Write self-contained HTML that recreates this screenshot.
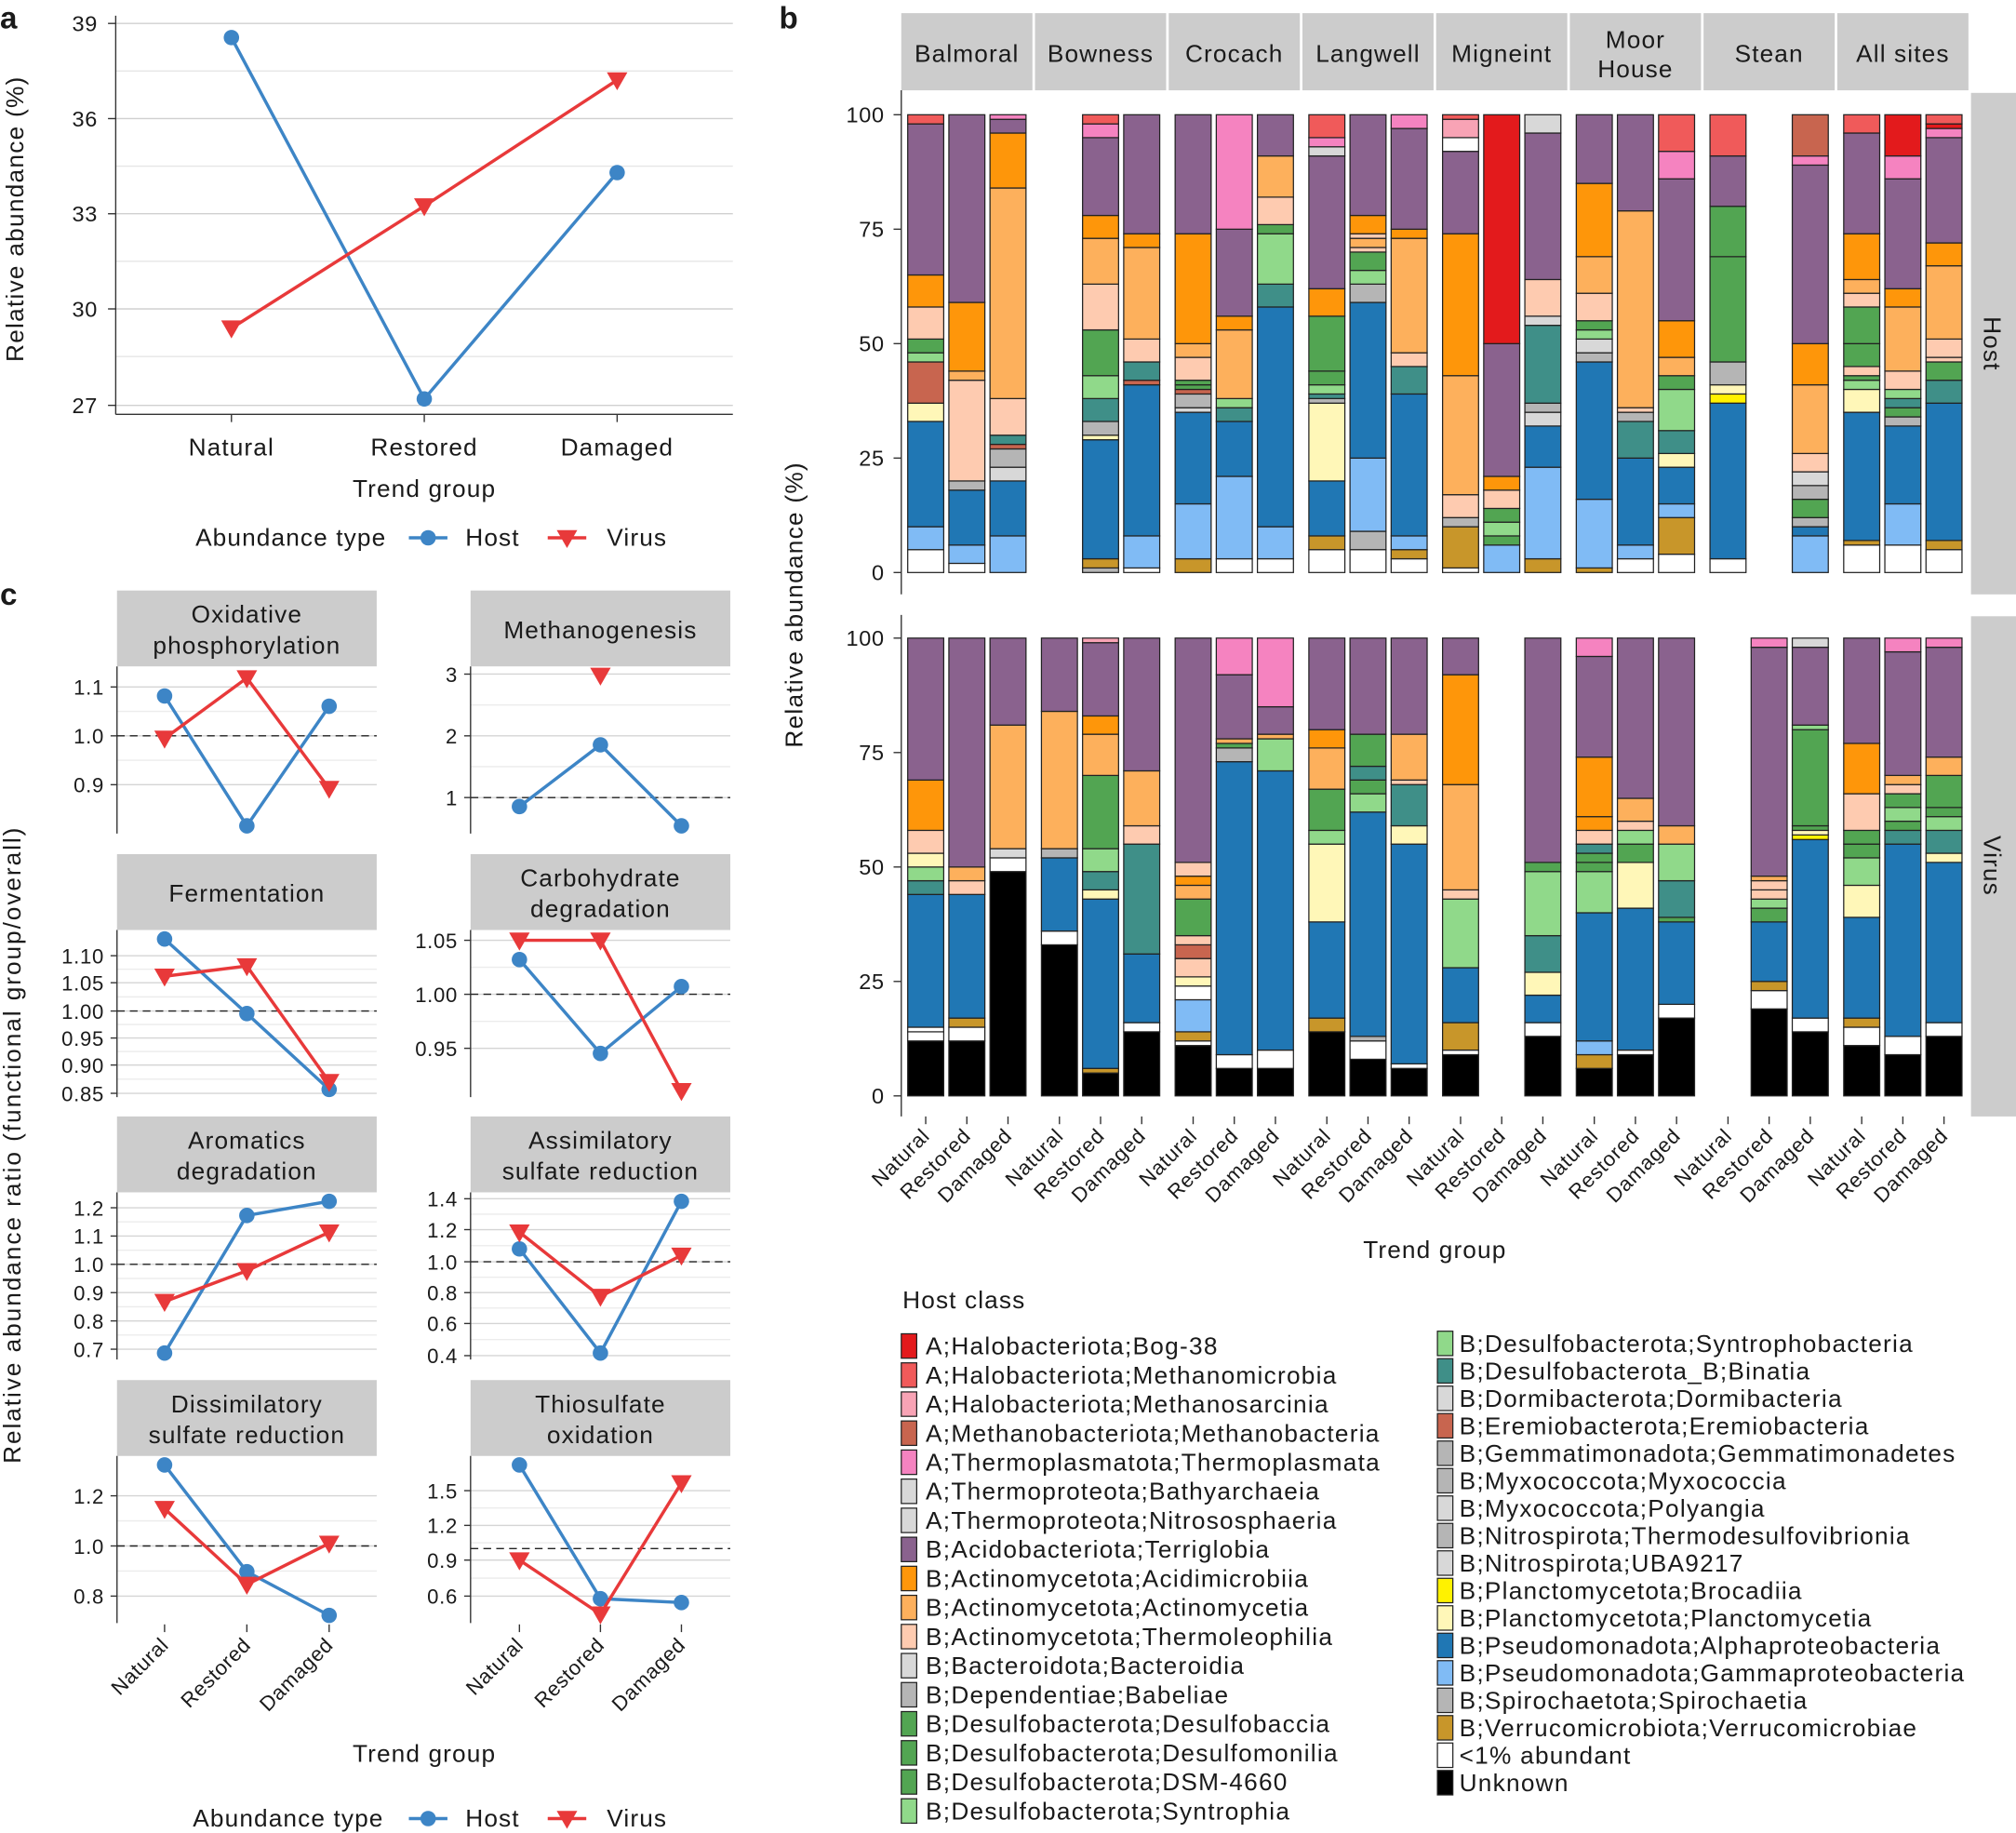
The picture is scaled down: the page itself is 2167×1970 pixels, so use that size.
<!DOCTYPE html>
<html><head><meta charset="utf-8">
<style>
html,body{margin:0;padding:0;background:#fff;}
svg{display:block;}
text{font-family:"Liberation Sans",sans-serif;fill:#1a1a1a;letter-spacing:0.5px;}
</style></head>
<body>
<svg id="s" width="2167" height="1970" viewBox="0 0 1568 1425" xmlns="http://www.w3.org/2000/svg">
<rect width="1568" height="1425" fill="#fff"/>
<g id="g"></g>
</svg>
<script>
var g=document.getElementById('g'),out='';
function T(x,y,t,o){o=o||{};out+='<text x="'+x+'" y="'+y+'" font-size="'+(o.fs||17)+'"'+(o.a?' text-anchor="'+o.a+'"':'')+(o.w?' font-weight="bold"':'')+(o.ls?' style="letter-spacing:'+o.ls+'px"':'')+(o.tr?' transform="'+o.tr+'"':'')+'>'+t+'</text>';}
function L(x1,y1,x2,y2,c,w,d){out+='<line x1="'+x1+'" y1="'+y1+'" x2="'+x2+'" y2="'+y2+'" stroke="'+c+'" stroke-width="'+(w||1)+'"'+(d?' stroke-dasharray="'+d+'"':'')+'/>';}
function R(x,y,w,h,f,s,sw){out+='<rect x="'+x+'" y="'+y+'" width="'+w+'" height="'+h+'" fill="'+f+'"'+(s?' stroke="'+s+'" stroke-width="'+(sw||1)+'"':'')+'/>';}
var HC='#3d85c6',VC='#e8393a';
function circ(x,y){out+='<circle cx="'+x+'" cy="'+y+'" r="6" fill="'+HC+'"/>';}
function tri(x,y){out+='<polygon points="'+(x-8)+','+(y-6)+' '+(x+8)+','+(y-6)+' '+x+','+(y+8)+'" fill="'+VC+'"/>';}
function line(pts,c){out+='<polyline points="'+pts.map(p=>p.join(',')).join(' ')+'" fill="none" stroke="'+c+'" stroke-width="2.5"/>';}

T(0,22,'a',{fs:24,w:1});T(606,22,'b',{fs:24,w:1});T(0,470,'c',{fs:24,w:1});
[[18,'39'],[92,'36'],[166,'33'],[240,'30'],[315,'27']].forEach(function(t,i){L(90,t[0],570,t[0],'#d0d0d0',1);L(84,t[0],90,t[0],'#333');T(76,t[0]+6,t[1],{a:'end'});});
[55,129,203,277].forEach(function(y){L(90,y,570,y,'#e6e6e6',1);});
L(90,12,90,322,'#333');L(90,322,570,322,'#333');
[[180,'Natural'],[330,'Restored'],[480,'Damaged']].forEach(function(t){L(t[0],322,t[0],328,'#333');T(t[0],354,t[1],{a:'middle',fs:19,ls:0.8});});
T(330,386,'Trend group',{a:'middle',fs:19,ls:0.8});
T(18,170,'Relative abundance (%)',{a:'middle',fs:19,ls:0.9,tr:'rotate(-90 18 170)'});
line([[180,29],[330,310],[480,134]],HC);line([[180,255],[330,160],[480,62]],VC);
circ(180,29);circ(330,310);circ(480,134);tri(180,255);tri(330,160);tri(480,62);
T(152,424,'Abundance type',{fs:19,ls:0.8});L(318,418,348,418,HC,2.5);circ(333,418);T(362,424,'Host',{fs:19,ls:0.8});
L(426,418,456,418,VC,2.5);tri(441,418);T(472,424,'Virus',{fs:19,ls:0.8});

function small(x0,ys,title,ticks,dash,host,virus){
  var x1=x0+202,py=ys+59,pb=ys+189;
  R(x0,ys,202,59,'#cccccc');
  if(title.length==1)T(x0+101,ys+37,title[0],{a:'middle',fs:19,ls:0.8});
  else{T(x0+101,ys+25,title[0],{a:'middle',fs:19,ls:0.8});T(x0+101,ys+49,title[1],{a:'middle',fs:19,ls:0.8});}
  for(var i=0;i<ticks.length;i++){L(x0,ticks[i][0],x1,ticks[i][0],'#d5d5d5');L(x0-5,ticks[i][0],x0,ticks[i][0],'#333');T(x0-10,ticks[i][0]+6,ticks[i][1],{a:'end',fs:16});
    if(i<ticks.length-1){var m=(ticks[i][0]+ticks[i+1][0])/2;L(x0,m,x1,m,'#ececec');}}
  L(x0,py,x0,pb,'#333');
  L(x0,dash,x1,dash,'#222',1,'6,4');
  if(host){line(host,HC);host.forEach(p=>circ(p[0],p[1]));}
  if(virus){if(virus.length>1)line(virus,VC);virus.forEach(p=>tri(p[0],p[1]));}
}
var lx=[128,192,256],rx=[404,467,530];
function P(xs,ys){return xs.map((x,i)=>[x,ys[i]]);}
small(91,459,['Oxidative','phosphorylation'],[[534,'1.1'],[572,'1.0'],[610,'0.9']],572,P(lx,[541,642,549]),P(lx,[574,527,613]));
small(366,459,['Methanogenesis'],[[524,'3'],[572,'2'],[620,'1']],620,P(rx,[627,579,642]),[[467,525]]);
small(91,664,['Fermentation'],[[743,'1.10'],[764,'1.05'],[786,'1.00'],[807,'0.95'],[828,'0.90'],[850,'0.85']],786,P(lx,[730,788,847]),P(lx,[759,751,841]));
small(366,664,['Carbohydrate','degradation'],[[731,'1.05'],[773,'1.00'],[815,'0.95']],773,P(rx,[746,819,767]),P(rx,[731,731,848]));
small(91,868,['Aromatics','degradation'],[[939,'1.2'],[961,'1.1'],[983,'1.0'],[1005,'0.9'],[1027,'0.8'],[1049,'0.7']],983,P(lx,[1052,945,934]),P(lx,[1012,988,958]));
small(366,868,['Assimilatory','sulfate reduction'],[[932,'1.4'],[956,'1.2'],[981,'1.0'],[1005,'0.8'],[1029,'0.6'],[1054,'0.4']],981,P(rx,[971,1052,934]),P(rx,[958,1008,976]));
small(91,1073,['Dissimilatory','sulfate reduction'],[[1163,'1.2'],[1202,'1.0'],[1241,'0.8']],1202,P(lx,[1139,1222,1256]),P(lx,[1173,1232,1200]));
small(366,1073,['Thiosulfate','oxidation'],[[1159,'1.5'],[1186,'1.2'],[1213,'0.9'],[1241,'0.6']],1204,P(rx,[1139,1243,1246]),P(rx,[1213,1255,1153]));
[lx,rx].forEach(function(xs){var names=['Natural','Restored','Damaged'];xs.forEach(function(x,i){L(x,1263,x,1269,'#333');T(x+4,1280,names[i],{a:'end',fs:16,tr:'rotate(-45 '+(x+4)+' 1280)'});});});
T(330,1370,'Trend group',{a:'middle',fs:19,ls:0.8});
T(16,890,'Relative abundance ratio (functional group/overall)',{a:'middle',fs:19,ls:1.4,tr:'rotate(-90 16 890)'});
T(150,1420,'Abundance type',{fs:19,ls:0.8});L(318,1414,348,1414,HC,2.5);circ(333,1414);T(362,1420,'Host',{fs:19,ls:0.8});
L(426,1414,456,1414,VC,2.5);tri(441,1414);T(472,1420,'Virus',{fs:19,ls:0.8});

var C={k:'#000',w:'#fff',gd:'#c8962a',lb:'#80bbf5',b:'#2077b4',ly:'#fff7b8',y:'#fff200',g1:'#b5b5b5',g2:'#d8d8d8',lg:'#90d98a',t:'#3f8f88',gr:'#52a552',pe:'#fecbb0',lo:'#fdb05c',o:'#fe960a',p:'#8a628e',pk:'#f583c0',lp:'#f8a3b5',mm:'#f05a5a',r:'#e31a1c',mb:'#c8654f'};
var H=[
[['w',5,'lb',10,'b',33,'ly',37,'mb',46,'lg',48,'gr',51,'pe',58,'o',65,'p',98,'mm',100],['w',2,'lb',6,'b',18,'g1',20,'pe',42,'lo',44,'o',59,'p',100],['lb',8,'b',20,'g2',23,'g1',27,'mb',28,'t',30,'pe',38,'lo',84,'o',96,'p',99,'pk',100]],
[null,['g1',1,'gd',3,'b',29,'ly',30,'g1',33,'t',38,'lg',43,'gr',53,'pe',63,'lo',73,'o',78,'p',95,'pk',98,'mm',100],['w',1,'lb',8,'b',41,'mb',42,'t',46,'pe',51,'lo',71,'o',74,'p',100]],
[['gd',3,'lb',15,'b',35,'g2',36,'g1',39,'mb',40,'gr',41,'gr',42,'pe',47,'lo',50,'o',74,'p',100],['w',3,'lb',21,'b',33,'t',36,'lg',38,'lo',53,'o',56,'p',75,'pk',100],['w',3,'lb',10,'b',58,'t',63,'lg',74,'gr',76,'pe',82,'lo',91,'p',100]],
[['w',5,'gd',8,'b',20,'ly',37,'g1',38,'t',39,'lg',41,'gr',44,'gr',56,'o',62,'p',91,'g2',93,'pk',95,'mm',100],['w',5,'g1',9,'lb',25,'b',59,'g1',63,'lg',66,'gr',70,'pe',71,'lo',73,'pe',74,'o',78,'p',100],['w',3,'gd',5,'lb',8,'b',39,'t',45,'pe',48,'lo',73,'o',75,'p',97,'pk',100]],
[['w',1,'gd',10,'g1',12,'pe',17,'lo',43,'o',74,'p',92,'w',95,'lp',99,'mm',100],['lb',6,'gr',8,'lg',11,'gr',14,'pe',18,'o',21,'p',50,'r',100],['gd',3,'lb',23,'b',32,'g2',35,'g1',37,'t',54,'g2',56,'pe',64,'p',96,'g2',100]],
[['gd',1,'lb',16,'b',46,'g1',48,'g2',51,'lg',53,'gr',55,'pe',61,'lo',69,'o',85,'p',100],['w',3,'lb',6,'b',25,'t',33,'g1',35,'pe',36,'lo',79,'p',100],['w',4,'gd',12,'lb',15,'b',23,'ly',26,'t',31,'lg',40,'gr',43,'lo',47,'o',55,'p',86,'pk',92,'mm',100]],
[['w',3,'b',37,'y',39,'ly',41,'g1',46,'gr',69,'gr',80,'p',91,'mm',100],null,['lb',8,'b',10,'g1',12,'gr',16,'g1',19,'g2',22,'pe',26,'lo',41,'o',50,'p',89,'pk',91,'mb',100]],
[['w',6,'gd',7,'b',35,'ly',40,'lg',42,'gr',43,'pe',45,'gr',50,'gr',58,'pe',61,'lo',64,'o',74,'p',96,'mm',100],['w',6,'lb',15,'b',32,'g1',34,'gr',36,'t',38,'lg',40,'pe',44,'lo',58,'o',62,'p',86,'pk',91,'r',100],['w',5,'gd',7,'b',37,'t',42,'gr',46,'pe',47,'pe',51,'lo',67,'o',72,'p',95,'pk',97,'r',98,'mm',100]]
];
var V=[
[['k',12,'w',14,'w',15,'b',44,'t',47,'lg',50,'ly',53,'pe',58,'o',69,'p',100],['k',12,'w',15,'gd',17,'b',44,'pe',47,'lo',50,'p',100],['k',49,'w',52,'g2',54,'lo',81,'p',100]],
[['k',33,'w',36,'b',52,'g1',54,'lo',84,'p',100],['k',5,'gd',6,'b',43,'ly',45,'t',49,'lg',54,'gr',70,'lo',79,'o',83,'p',99,'lp',100],['k',14,'w',16,'b',31,'t',55,'pe',59,'lo',71,'p',100]],
[['k',11,'w',12,'gd',14,'lb',21,'w',24,'ly',26,'pe',30,'mb',33,'pe',35,'gr',43,'lo',46,'o',48,'pe',51,'p',100],['k',6,'w',9,'b',73,'g1',76,'gr',77,'lo',78,'p',92,'pk',100],['k',6,'w',10,'b',71,'lg',78,'lo',79,'p',85,'pk',100]],
[['k',14,'gd',17,'b',38,'ly',55,'lg',58,'gr',67,'lo',76,'o',80,'p',100],['k',8,'w',12,'g1',13,'b',62,'lg',66,'gr',69,'t',72,'gr',79,'p',100],['k',6,'w',7,'b',55,'ly',59,'t',68,'pe',69,'lo',79,'p',100]],
[['k',9,'w',10,'gd',16,'b',28,'lg',43,'pe',45,'lo',68,'o',92,'p',100],null,['k',13,'w',16,'b',22,'ly',27,'t',35,'lg',49,'gr',51,'p',100]],
[['k',6,'gd',9,'lb',12,'b',40,'lg',49,'gr',51,'gr',53,'t',55,'pe',58,'o',61,'o',74,'p',96,'pk',100],['k',9,'w',10,'b',41,'ly',51,'gr',55,'lg',58,'pe',60,'lo',65,'p',100],['k',17,'w',20,'b',38,'gr',39,'t',47,'lg',55,'lo',59,'p',100]],
[null,['k',19,'w',23,'gd',25,'b',38,'gr',41,'lg',43,'pe',45,'pe',47,'lo',48,'p',98,'pk',100],['k',14,'w',17,'b',56,'y',57,'ly',58,'gr',59,'gr',80,'lg',81,'p',98,'g2',100]],
[['k',11,'w',15,'gd',17,'b',39,'ly',46,'lg',52,'gr',55,'gr',58,'pe',66,'o',77,'p',100],['k',9,'w',13,'b',55,'t',58,'gr',60,'lg',63,'gr',66,'pe',68,'lo',70,'p',97,'pk',100],['k',13,'w',16,'b',51,'ly',53,'t',58,'lg',61,'gr',63,'gr',70,'lo',74,'p',98,'pk',100]]
];
var sites=[['Balmoral'],['Bowness'],['Crocach'],['Langwell'],['Migneint'],['Moor','House'],['Stean'],['All sites']];
function bars(data,y0){
  for(var f=0;f<8;f++){var fx=701+f*104;
    for(var b=0;b<3;b++){var d=data[f][b];if(!d)continue;var bx=fx+5+b*32,prev=0;
      for(var i=0;i<d.length;i+=2){var v=d[i+1];R(bx,y0-v*3.56,28,(v-prev)*3.56,C[d[i]],'#222',0.9);prev=v;}
    }}
}
for(var f=0;f<8;f++){var fx=701+f*104;R(fx,10,102,60,'#cccccc');
  if(sites[f].length==1)T(fx+51,48,sites[f][0],{a:'middle',fs:19,ls:0.8});else{T(fx+51,37,sites[f][0],{a:'middle',fs:19,ls:0.8});T(fx+51,60,sites[f][1],{a:'middle',fs:19,ls:0.8});}}
R(1533,72,35,390,'#cccccc');R(1533,479,35,389,'#cccccc');
T(1543,267,'Host',{a:'middle',fs:19,ls:0.8,tr:'rotate(90 1543 267)'});T(1543,673,'Virus',{a:'middle',fs:19,ls:0.8,tr:'rotate(90 1543 673)'});
[[445,70,462],[852,478,868]].forEach(function(a){L(701,a[1],701,a[2],'#333');
  [0,25,50,75,100].forEach(function(v){var y=a[0]-v*3.56;L(695,y,701,y,'#333');T(688,y+6,v,{a:'end',fs:17});});});
bars(H,445);bars(V,852);
var nm=['Natural','Restored','Damaged'];
for(var f=0;f<8;f++){for(var b=0;b<3;b++){var cx=701+f*104+19+b*32;L(cx,868,cx,874,'#333');T(cx+4,884,nm[b],{a:'end',fs:16,ls:0.6,tr:'rotate(-45 '+(cx+4)+' 884)'});}}
T(1116,978,'Trend group',{a:'middle',fs:19,ls:0.8});
T(624,470,'Relative abundance (%)',{a:'middle',fs:19,ls:0.9,tr:'rotate(-90 624 470)'});
T(702,1017,'Host class',{fs:19,ls:0.8});
var L1=[['r','A;Halobacteriota;Bog-38'],['mm','A;Halobacteriota;Methanomicrobia'],['lp','A;Halobacteriota;Methanosarcinia'],['mb','A;Methanobacteriota;Methanobacteria'],['pk','A;Thermoplasmatota;Thermoplasmata'],['g2','A;Thermoproteota;Bathyarchaeia'],['g2','A;Thermoproteota;Nitrososphaeria'],['p','B;Acidobacteriota;Terriglobia'],['o','B;Actinomycetota;Acidimicrobiia'],['lo','B;Actinomycetota;Actinomycetia'],['pe','B;Actinomycetota;Thermoleophilia'],['g2','B;Bacteroidota;Bacteroidia'],['g1','B;Dependentiae;Babeliae'],['gr','B;Desulfobacterota;Desulfobaccia'],['gr','B;Desulfobacterota;Desulfomonilia'],['gr','B;Desulfobacterota;DSM-4660'],['lg','B;Desulfobacterota;Syntrophia']];
var L2=[['lg','B;Desulfobacterota;Syntrophobacteria'],['t','B;Desulfobacterota_B;Binatia'],['g2','B;Dormibacterota;Dormibacteria'],['mb','B;Eremiobacterota;Eremiobacteria'],['g1','B;Gemmatimonadota;Gemmatimonadetes'],['g1','B;Myxococcota;Myxococcia'],['g2','B;Myxococcota;Polyangia'],['g1','B;Nitrospirota;Thermodesulfovibrionia'],['g2','B;Nitrospirota;UBA9217'],['y','B;Planctomycetota;Brocadiia'],['ly','B;Planctomycetota;Planctomycetia'],['b','B;Pseudomonadota;Alphaproteobacteria'],['lb','B;Pseudomonadota;Gammaproteobacteria'],['g1','B;Spirochaetota;Spirochaetia'],['gd','B;Verrucomicrobiota;Verrucomicrobiae'],['w','&lt;1% abundant'],['k','Unknown']];
L1.forEach(function(e,i){var y=1047+i*22.6;R(701,y-10,12,19,C[e[0]],'#222',0.9);T(720,y+6,e[1],{fs:19,ls:0.9});});
L2.forEach(function(e,i){var y=1045+i*21.35;R(1118,y-10,12,19,C[e[0]],'#222',0.9);T(1135,y+6,e[1],{fs:19,ls:0.9});});
g.innerHTML=out;
</script>
</body></html>
